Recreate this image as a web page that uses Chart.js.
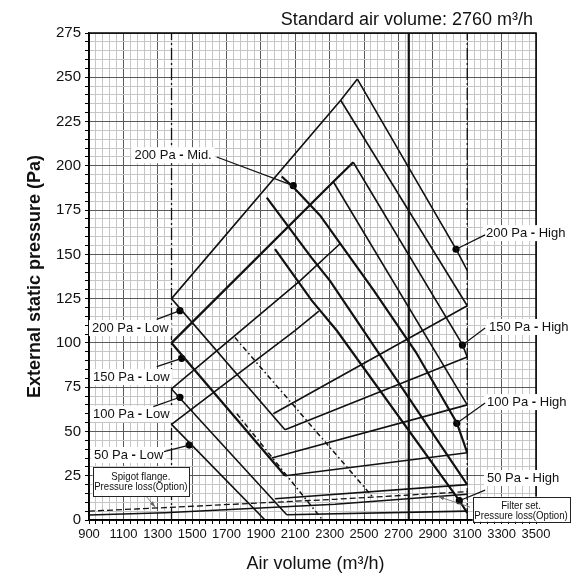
<!DOCTYPE html>
<html>
<head>
<meta charset="utf-8">
<script src="https://cdn.jsdelivr.net/npm/chart.js@4.4.1/dist/chart.umd.min.js"></script>
<style>
  html, body { margin: 0; padding: 0; background: #fff; }
</style>
</head>
<body>
<canvas id="myChart" width="577" height="579"></canvas>
<script>
  // axis ticks (labelled ones)
  const xTicks = [900, 1100, 1300, 1500, 1700, 1900, 2100, 2300, 2500, 2700, 2900, 3100, 3300, 3500];
  const yTicks = [0, 25, 50, 75, 100, 125, 150, 175, 200, 225, 250, 275];

  // vertical limit lines
  const minAirLine = [[1380, 0], [1380, 275]];
  const maxAirLine = [[3100, 0], [3100, 275]];
  const standardLine = [[2760, 0], [2760, 275]];

  // Low fan curves (from the minimum air volume line)
  const low200 = [[1380, 125], [2040, 51]];
  const low150 = [[1380, 100], [2040, 25]];
  const low100 = [[1380, 74], [2050, 3]];
  const low50 = [[1380, 54], [1924, 0]];

  // upper limit curves
  const upper200 = [[1380, 125], [2364, 237], [2461, 249]];
  const upper150 = [[1380, 100], [2321, 191], [2437, 202]];
  const upper100 = [[1380, 74], [2127, 135], [2360, 156]];
  const upper50 = [[1380, 54], [2098, 107], [2237, 118]];

  // lower limit curves
  const lower200a = [[1972, 60], [3100, 121]];
  const lower200b = [[2040, 51], [3100, 92]];
  const lower150a = [[1963, 35], [3100, 65]];
  const lower150b = [[2040, 25], [3100, 38]];
  const lower100a = [[1982, 12], [3100, 20]];
  const lower100b = [[2050, 3], [3100, 5]];

  // High / Mid fan curves
  const high200 = [[2461, 249], [3035, 153], [3100, 141]];
  const high200b = [[2364, 237], [3100, 121]];
  const high150 = [[2437, 202], [3072, 99], [3100, 92]];
  const high150b = [[2321, 191], [3100, 65]];
  const mid200 = [[2021, 194], [2088, 188], [2244, 172], [2554, 130], [2800, 95], [3039, 55], [3100, 38]];
  const mid200b = [[1934, 182], [2195, 148], [2302, 135], [3100, 20]];
  const mid150 = [[1982, 153], [2195, 124], [2341, 107], [3054, 11], [3100, 4]];

  // dash-dot curves
  const dashCurve1 = [[1749, 103], [2554, 12.6]];
  const dashCurve2 = [[1760, 60], [2259, 0]];

  // option pressure losses
  const spigotLoss = [[900, 5], [1342, 7], [2331, 11.7], [3100, 16]];
  const filterLoss = [[900, 2.8], [1342, 4.1], [2331, 8.9], [3100, 14.5]];

  // marked points
  const dots = [[2088, 188.8], [3035, 152.9], [3072, 98.8], [3039, 54.6], [3054, 10.9],
                [1429, 118.2], [1439, 91.3], [1429, 69.3], [1483, 42.3]];

  const callouts = [
    {text: '200 Pa - Mid.', at: [1389, 206], align: 'center', from: [1643, 205], dot: 0},
    {text: '200 Pa - High', at: [3209, 162], align: 'left', from: [3204, 161], dot: 1},
    {text: '150 Pa - High', at: [3227, 109], align: 'left', from: [3204, 108.4], dot: 2},
    {text: '100 Pa - High', at: [3215, 66.6], align: 'left', from: [3204, 66.1], dot: 3},
    {text: '50 Pa - High', at: [3215, 23.7], align: 'left', from: [3204, 16.9], dot: 4},
    {text: '200 Pa - Low', at: [917, 108.4], align: 'left', from: [1294, 113.3], dot: 5},
    {text: '150 Pa - Low', at: [923, 80.7], align: 'left', from: [1294, 86.6], dot: 6},
    {text: '100 Pa - Low', at: [923, 59.9], align: 'left', from: [1274, 64], dot: 7},
    {text: '50 Pa - Low', at: [929, 36.7], align: 'left', from: [1336, 38.6], dot: 8}
  ];

  const FONT = '"Liberation Sans", Arial, sans-serif';
  Chart.defaults.font.family = FONT;

  const pts = a => a.map(p => ({x: p[0], y: p[1]}));
  function line(d, w, dash) {
    return {data: pts(d), showLine: true, borderColor: '#111', borderWidth: w,
            borderDash: dash || [], pointRadius: 0, fill: false, tension: 0};
  }

  const datasets = [
    line(minAirLine, 1.3, [12, 3, 2, 3]),
    line(maxAirLine, 1.3, [12, 3, 2, 3]),
    line(standardLine, 2.2),
    line(spigotLoss, 1.3, [6, 3]),
    line(filterLoss, 1.5),
    line(dashCurve1, 1.5, [5, 3, 1.5, 3]),
    line(dashCurve2, 1.5, [5, 3, 1.5, 3]),
    line(low200, 1.6), line(low150, 2.3), line(low100, 1.6), line(low50, 1.6),
    line(upper200, 1.6), line(upper150, 2.3), line(upper100, 1.6), line(upper50, 1.6),
    line(lower200a, 1.6), line(lower200b, 1.6), line(lower150a, 1.6),
    line(lower150b, 1.6), line(lower100a, 1.6), line(lower100b, 1.6),
    line(high200, 1.6), line(high200b, 1.6), line(high150, 1.6), line(high150b, 1.6),
    line(mid200, 2.2), line(mid200b, 2.2), line(mid150, 2.2),
    {data: pts(dots), showLine: false, pointRadius: 3.6, pointBackgroundColor: '#000', pointBorderWidth: 0}
  ];

  function drawLabel(ctx, text, px, py, align) {
    const [a, b] = text.split(' - ');
    const normal = '13px ' + FONT, bold = 'bold 13px ' + FONT;
    ctx.font = normal;
    const w1 = ctx.measureText(a + ' ').width;
    const w3 = ctx.measureText(' ' + b).width;
    ctx.font = bold;
    const w2 = ctx.measureText('-').width;
    const w = w1 + w2 + w3;
    const left = align === 'center' ? px - w / 2 : px;
    ctx.fillStyle = '#fff';
    ctx.fillRect(left - 3, py - 8, w + 6, 16);
    ctx.fillStyle = '#111';
    ctx.textAlign = 'left';
    ctx.textBaseline = 'middle';
    ctx.font = normal; ctx.fillText(a + ' ', left, py);
    ctx.font = bold; ctx.fillText('-', left + w1, py);
    ctx.font = normal; ctx.fillText(' ' + b, left + w1 + w2, py);
  }

  function noteBox(ctx, lines, x0, y0, x1, y1, ty) {
    ctx.fillStyle = '#fff';
    ctx.fillRect(x0, y0, x1 - x0, y1 - y0);
    ctx.strokeStyle = '#222';
    ctx.lineWidth = 1;
    ctx.strokeRect(Math.round(x0) + 0.5, Math.round(y0) + 0.5, Math.round(x1 - x0), Math.round(y1 - y0));
    ctx.fillStyle = '#111';
    ctx.font = '11.5px ' + FONT;
    ctx.textAlign = 'center';
    ctx.textBaseline = 'middle';
    lines.forEach((t, i) => {
      ctx.save();
      ctx.translate((x0 + x1) / 2, ty[i]);
      ctx.scale(0.84, 1);
      ctx.fillText(t, 0, 0);
      ctx.restore();
    });
  }

  function arrow(ctx, x0, y0, x1, y1) {
    ctx.strokeStyle = '#666';
    ctx.fillStyle = '#666';
    ctx.lineWidth = 0.8;
    ctx.beginPath(); ctx.moveTo(x0, y0); ctx.lineTo(x1, y1); ctx.stroke();
    const ang = Math.atan2(y1 - y0, x1 - x0);
    ctx.beginPath();
    ctx.moveTo(x1, y1);
    ctx.lineTo(x1 - 6 * Math.cos(ang - 0.35), y1 - 6 * Math.sin(ang - 0.35));
    ctx.lineTo(x1 - 6 * Math.cos(ang + 0.35), y1 - 6 * Math.sin(ang + 0.35));
    ctx.closePath(); ctx.fill();
  }

  const notes = {
    id: 'notes',
    afterDatasetsDraw(chart) {
      const {ctx, chartArea: a, scales} = chart;
      const sx = v => scales.x.getPixelForValue(v);
      const sy = v => scales.y.getPixelForValue(v);
      ctx.save();
      ctx.strokeStyle = '#000';
      ctx.lineWidth = 1.5;
      ctx.strokeRect(a.left, a.top, a.width, a.height);

      callouts.forEach(c => drawLabel(ctx, c.text, sx(c.at[0]), sy(c.at[1]), c.align));
      ctx.strokeStyle = '#111';
      ctx.lineWidth = 1.2;
      callouts.forEach(c => {
        const d = dots[c.dot];
        ctx.beginPath();
        ctx.moveTo(sx(c.from[0]), sy(c.from[1]));
        ctx.lineTo(sx(d[0]), sy(d[1]));
        ctx.stroke();
      });

      noteBox(ctx, ['Spigot flange.', 'Pressure loss(Option)'],
              sx(921), sy(30), sx(1482), sy(13.5), [sy(24.4), sy(18.6)]);
      arrow(ctx, sx(1236), sy(13), sx(1284), sy(7.4));
      noteBox(ctx, ['Filter set.', 'Pressure loss(Option)'],
              sx(3132), sy(13.2), sx(3694), sy(-1), [sy(8.0), sy(2.3)]);
      arrow(ctx, sx(3116), sy(7.3), sx(2932), sy(13.2));
      ctx.restore();
    },
    afterDraw(chart) {
      const {ctx, chartArea: a} = chart;
      ctx.save();
      ctx.fillStyle = '#111';
      ctx.font = '18px ' + FONT;
      ctx.textAlign = 'right';
      ctx.textBaseline = 'alphabetic';
      ctx.fillText('Standard air volume: 2760 m\u00b3/h', a.right - 3, 25);
      ctx.textAlign = 'center';
      ctx.textBaseline = 'middle';
      ctx.fillText('Air volume (m\u00b3/h)', (a.left + a.right) / 2 + 3, 564);
      ctx.translate(35, (a.top + a.bottom) / 2);
      ctx.rotate(-Math.PI / 2);
      ctx.font = 'bold 18px ' + FONT;
      ctx.fillText('External static pressure (Pa)', 0, 0);
      ctx.restore();
    }
  };

  const config = {
    type: 'scatter',
    data: {datasets: datasets},
    options: {
      responsive: false,
      animation: false,
      events: [],
      layout: {padding: {top: 33, right: 41, left: 0, bottom: 0}},
      plugins: {legend: {display: false}, tooltip: {enabled: false}},
      scales: {
        x: {
          type: 'linear', min: 900, max: 3500,
          afterFit: s => { s.height = 59; },
          border: {display: true, color: '#000', width: 1.5},
          grid: {
            color: c => xTicks.includes(c.tick.value) ? '#5a5a5a' : '#c6c6c6',
            lineWidth: 1, tickLength: 4, tickColor: '#000'
          },
          ticks: {
            stepSize: 40, autoSkip: false, maxRotation: 0, minRotation: 0, padding: 3,
            color: '#111', font: {size: 13},
            callback: v => xTicks.includes(v) ? String(v) : ''
          }
        },
        y: {
          type: 'linear', min: 0, max: 275,
          afterFit: s => { s.width = 89; },
          border: {display: true, color: '#000', width: 1.5},
          grid: {
            color: c => yTicks.includes(c.tick.value) ? '#5a5a5a' : '#c6c6c6',
            lineWidth: 1, tickLength: 4, tickColor: '#000'
          },
          ticks: {
            stepSize: 5, autoSkip: false, padding: 4,
            color: '#111', font: {size: 15},
            callback: v => yTicks.includes(v) ? String(v) : ''
          }
        }
      }
    },
    plugins: [notes]
  };

  const myChart = new Chart(document.getElementById('myChart'), config);
</script>
</body>
</html>
